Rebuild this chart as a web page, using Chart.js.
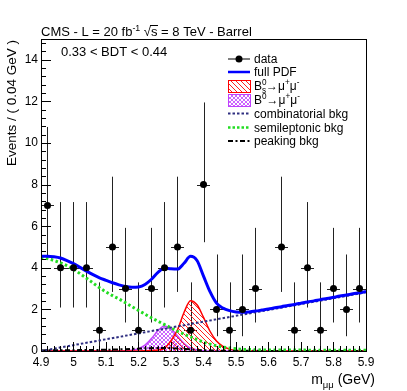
<!DOCTYPE html>
<html>
<head>
<meta charset="utf-8">
<script src="https://cdn.jsdelivr.net/npm/chart.js@4.4.1/dist/chart.umd.min.js"></script>
<style>
  html, body { margin: 0; padding: 0; background: #fff; }
  #grafico { display: block; }
</style>
</head>
<body>
<canvas id="grafico" width="407" height="391"></canvas>
<script>
/* mass fit, barrel, 0.33 < BDT < 0.44 */

// dados
var binCenters = [4.92, 4.96, 5.00, 5.04, 5.08, 5.12, 5.16, 5.20, 5.24, 5.28, 5.32, 5.36, 5.40,
                  5.44, 5.48, 5.52, 5.56, 5.60, 5.64, 5.68, 5.72, 5.76, 5.80, 5.84, 5.88];
var events = [7, 4, 4, 4, 1, 5, 3, 1, 3, 4, 5, 1, 8, 2, 1, 2, 3, 0, 5, 1, 4, 1, 3, 2, 3];
var errDown = [2.58, 1.91, 1.91, 1.91, 0.83, 2.16, 1.63, 0.83, 1.63, 1.91, 2.16, 0.83, 2.77,
               1.29, 0.83, 1.29, 1.63, 0, 2.16, 0.83, 1.91, 0.83, 1.63, 1.29, 1.63];
var errUp = [3.77, 3.16, 3.16, 3.16, 2.30, 3.38, 2.92, 2.30, 2.92, 3.16, 3.38, 2.30, 3.95,
             2.64, 2.30, 2.64, 2.92, 0, 3.38, 2.30, 3.16, 2.30, 2.92, 2.64, 2.92];

var massGrid = [4.90, 4.92, 4.94, 4.96, 4.98, 5.00, 5.02, 5.04, 5.06, 5.08, 5.10, 5.12, 5.14,
                5.16, 5.18, 5.20, 5.22, 5.24, 5.26, 5.28, 5.30, 5.32, 5.34, 5.36, 5.38, 5.40,
                5.42, 5.44, 5.46, 5.48, 5.50, 5.52, 5.54, 5.56, 5.58, 5.60, 5.62, 5.64, 5.66,
                5.68, 5.70, 5.72, 5.74, 5.76, 5.78, 5.80, 5.82, 5.84, 5.86, 5.88, 5.90];
var fullPdf = [4.55, 4.56, 4.53, 4.47, 4.35, 4.20, 4.02, 3.84, 3.67, 3.52, 3.40, 3.28, 3.18,
               3.10, 3.06, 3.08, 3.20, 3.45, 3.78, 3.98, 3.95, 3.94, 4.22, 4.55, 4.35, 3.60,
               2.85, 2.30, 2.06, 1.94, 1.88, 1.86, 1.88, 1.92, 1.97, 2.02, 2.08, 2.13, 2.19,
               2.24, 2.30, 2.36, 2.41, 2.47, 2.52, 2.58, 2.64, 2.69, 2.75, 2.80, 2.86];
var semileptonic = [4.50, 4.44, 4.35, 4.24, 4.10, 3.93, 3.72, 3.50, 3.27, 3.04, 2.84, 2.66, 2.50,
                    2.32, 2.13, 1.95, 1.77, 1.59, 1.43, 1.27, 1.11, 0.95, 0.81, 0.68, 0.55, 0.43,
                    0.33, 0.25, 0.19, 0.14, 0.11, 0.08, 0.07, 0.06, 0.05, 0.05, 0.05, 0.05, 0.05,
                    0.05, 0.05, 0.04, 0.04, 0.04, 0.04, 0.04, 0.04, 0.04, 0.04, 0.04, 0.04];

var combMass = [4.90, 5.90];
var combinatorial = [0.0, 2.82];

var bsMass = [4.90, 5.20, 5.24, 5.26, 5.28, 5.30, 5.32, 5.34, 5.36, 5.38, 5.40, 5.42, 5.44,
              5.46, 5.48, 5.50, 5.52, 5.54, 5.90];
var bsSignal = [0, 0, 0.02, 0.05, 0.13, 0.50, 1.02, 1.85, 2.42, 2.22, 1.62, 0.95, 0.48,
                0.22, 0.09, 0.03, 0.01, 0, 0];

var bdMass = [4.90, 5.14, 5.16, 5.18, 5.20, 5.22, 5.24, 5.26, 5.28, 5.30, 5.32, 5.34, 5.36,
              5.38, 5.40, 5.42, 5.90];
var bdSignal = [0, 0, 0.01, 0.04, 0.11, 0.28, 0.60, 0.98, 1.20, 1.06, 0.72, 0.36, 0.14,
                0.05, 0.01, 0, 0];

var peakMass = [4.90, 5.00, 5.10, 5.16, 5.22, 5.26, 5.30, 5.34, 5.38, 5.44, 5.50, 5.90];
var peaking = [0.03, 0.04, 0.06, 0.09, 0.13, 0.15, 0.14, 0.10, 0.05, 0.02, 0.01, 0.0];

var xTicks = [4.9, 5.0, 5.1, 5.2, 5.3, 5.4, 5.5, 5.6, 5.7, 5.8, 5.9];
var yTicks = [0, 2, 4, 6, 8, 10, 12, 14];

var FONTE = '"Liberation Sans", Arial, Helvetica, sans-serif';

function pares(xs, ys) {
    return xs.map(function (x, i) { return { x: x, y: ys[i] }; });
}

function hachura(cor, cruzada, passo) {
    var c = document.createElement('canvas');
    c.width = passo; c.height = passo;
    var g = c.getContext('2d');
    g.strokeStyle = cor;
    g.lineWidth = 1;
    g.beginPath();
    g.moveTo(-1, -1); g.lineTo(passo + 1, passo + 1);
    g.moveTo(-1, passo - 1); g.lineTo(1, passo + 1);
    g.moveTo(passo - 1, -1); g.lineTo(passo + 1, 1);
    if (cruzada) {
        g.moveTo(-1, passo + 1); g.lineTo(passo + 1, -1);
        g.moveTo(-1, 1); g.lineTo(1, -1);
        g.moveTo(passo - 1, passo + 1); g.lineTo(passo + 1, passo - 1);
    }
    g.stroke();
    return g.createPattern(c, 'repeat');
}

var hachuraBs = hachura('#ff2020', false, 5);
var hachuraBd = hachura('#cc66ff', true, 4);

// texto com sub/sobrescritos: [texto, 'sup'|'sub', naoAvanca]
function texto(c, x, y, partes, tam) {
    partes.forEach(function (p) {
        var t = p[0], tipo = p[1] || '';
        if (!tipo) {
            c.font = tam + 'px ' + FONTE;
            c.fillText(t, x, y);
            x += c.measureText(t).width;
        } else {
            c.font = (tam * 0.68) + 'px ' + FONTE;
            var dy = tipo === 'sup' ? -tam * 0.42 : tam * 0.28;
            c.fillText(t, x, y + dy);
            if (!p[2]) x += c.measureText(t).width;
        }
    });
    return x;
}

var estiloRoot = {
    id: 'estiloRoot',
    beforeDatasetsDraw: function (chart) {
        var c = chart.ctx, sx = chart.scales.x, sy = chart.scales.y;
        c.save();
        c.strokeStyle = '#222';
        c.lineWidth = 1;
        binCenters.forEach(function (m, i) {
            if (!events[i]) return;
            var px = Math.round(sx.getPixelForValue(m)) + 0.5;
            var py = Math.round(sy.getPixelForValue(events[i])) + 0.5;
            c.beginPath();
            c.moveTo(px, sy.getPixelForValue(events[i] + errUp[i]));
            c.lineTo(px, sy.getPixelForValue(events[i] - errDown[i]));
            c.moveTo(sx.getPixelForValue(m - 0.02), py);
            c.lineTo(sx.getPixelForValue(m + 0.02), py);
            c.stroke();
        });
        c.restore();
    },
    afterDraw: function (chart) {
        var c = chart.ctx, a = chart.chartArea, sx = chart.scales.x, sy = chart.scales.y;
        c.save();
        // moldura
        c.strokeStyle = '#000';
        c.lineWidth = 1;
        c.strokeRect(Math.round(a.left) + 0.5, Math.round(a.top) + 0.5,
                     Math.round(a.right - a.left), Math.round(a.bottom - a.top));
        // marcas para dentro, estilo ROOT
        c.beginPath();
        for (var i = 0; i < xTicks.length; i++) {
            var px = Math.round(sx.getPixelForValue(xTicks[i])) + 0.5;
            c.moveTo(px, a.bottom); c.lineTo(px, a.bottom - 9);
            if (i < xTicks.length - 1) {
                for (var k = 1; k < 5; k++) {
                    var pm = Math.round(sx.getPixelForValue(xTicks[i] + (xTicks[i + 1] - xTicks[i]) * k / 5)) + 0.5;
                    c.moveTo(pm, a.bottom); c.lineTo(pm, a.bottom - 5);
                }
            }
        }
        for (var j = 0; j < yTicks.length; j++) {
            var py = Math.round(sy.getPixelForValue(yTicks[j])) + 0.5;
            c.moveTo(a.left, py); c.lineTo(a.left + 10, py);
            for (var q = 1; q < 5; q++) {
                var v = yTicks[j] + 2 * q / 5;
                if (v > sy.max) break;
                var pq = Math.round(sy.getPixelForValue(v)) + 0.5;
                c.moveTo(a.left, pq); c.lineTo(a.left + 5, pq);
            }
        }
        c.stroke();

        // textos
        c.fillStyle = '#000';
        c.textBaseline = 'alphabetic';
        c.textAlign = 'left';
        var x = texto(c, 41, 36, [['CMS - L = 20 fb'], ['-1', 'sup'], [' ']], 13);
        x = texto(c, x, 36, [['\u221a']], 13);
        var xs = x;
        x = texto(c, x, 36, [['s']], 13);
        c.beginPath();
        c.moveTo(xs - 1, 25.5); c.lineTo(x + 0.5, 25.5);
        c.stroke();
        texto(c, x, 36, [[' = 8 TeV - Barrel']], 13);

        texto(c, 61, 56, [['0.33 < BDT < 0.44']], 13);

        // titulo do eixo x, alinhado a direita
        var tt = 14;
        c.font = tt + 'px ' + FONTE;
        var w = c.measureText('m').width + c.measureText(' (GeV)').width;
        c.font = (tt * 0.68) + 'px ' + FONTE;
        w += c.measureText('\u03bc\u03bc').width;
        texto(c, 375 - w, 384, [['m'], ['\u03bc\u03bc', 'sub'], [' (GeV)']], tt);

        // titulo do eixo y
        c.save();
        c.translate(16, 40);
        c.rotate(-Math.PI / 2);
        c.font = '13.5px ' + FONTE;
        c.textAlign = 'right';
        c.fillText('Events / ( 0.04 GeV )', 0, 0);
        c.restore();

        // legenda
        var lx0 = 228, lx1 = 250, tx = 254;
        var linhas = [58.5, 72, 86, 100, 113.5, 127.5, 141];
        c.lineWidth = 1;
        c.strokeStyle = '#000';
        c.beginPath(); c.moveTo(lx0, linhas[0] + 0.5); c.lineTo(lx1, linhas[0] + 0.5); c.stroke();
        c.beginPath(); c.arc(239, linhas[0] + 0.5, 3.5, 0, Math.PI * 2); c.fill();

        c.strokeStyle = '#0000ff'; c.lineWidth = 2.5;
        c.beginPath(); c.moveTo(lx0, linhas[1]); c.lineTo(lx1, linhas[1]); c.stroke();

        c.lineWidth = 1;
        c.fillStyle = hachuraBs;
        c.fillRect(lx0, linhas[2] - 6, lx1 - lx0, 12);
        c.strokeStyle = '#ff0000';
        c.strokeRect(lx0 + 0.5, linhas[2] - 5.5, lx1 - lx0, 12);
        c.fillStyle = hachuraBd;
        c.fillRect(lx0, linhas[3] - 6, lx1 - lx0, 12);
        c.strokeStyle = '#c040ff';
        c.strokeRect(lx0 + 0.5, linhas[3] - 5.5, lx1 - lx0, 12);

        c.strokeStyle = '#2e2e80'; c.lineWidth = 2; c.setLineDash([2.5, 2]);
        c.beginPath(); c.moveTo(lx0, linhas[4]); c.lineTo(lx1, linhas[4]); c.stroke();
        c.strokeStyle = '#22dd22'; c.lineWidth = 2.5; c.setLineDash([2.5, 2]);
        c.beginPath(); c.moveTo(lx0, linhas[5]); c.lineTo(lx1, linhas[5]); c.stroke();
        c.strokeStyle = '#000'; c.lineWidth = 2; c.setLineDash([5, 2.5, 2, 2.5]);
        c.beginPath(); c.moveTo(lx0, linhas[6]); c.lineTo(lx1, linhas[6]); c.stroke();
        c.setLineDash([]);

        c.fillStyle = '#000';
        var tam = 12;
        texto(c, tx, linhas[0] + 4, [['data']], tam);
        texto(c, tx, linhas[1] + 4, [['full PDF']], tam);
        texto(c, tx, linhas[2] + 4, [['B'], ['0', 'sup', true], ['s', 'sub'], ['\u2192\u03bc'], ['+', 'sup'], ['\u03bc'], ['-', 'sup']], tam);
        texto(c, tx, linhas[3] + 4, [['B'], ['0', 'sup'], ['\u2192\u03bc'], ['+', 'sup'], ['\u03bc'], ['-', 'sup']], tam);
        texto(c, tx, linhas[4] + 4, [['combinatorial bkg']], tam);
        texto(c, tx, linhas[5] + 4, [['semileptonic bkg']], tam);
        texto(c, tx, linhas[6] + 4, [['peaking bkg']], tam);
        c.restore();
    }
};

var ctx = grafico.getContext('2d');

new Chart(ctx, {
    type: 'scatter',
    data: {
        datasets: [
            {
                label: 'data',
                data: binCenters.map(function (m, i) { return { x: m, y: events[i] ? events[i] : null }; }),
                pointRadius: 3.5,
                pointBackgroundColor: '#000',
                pointBorderWidth: 0,
                showLine: false
            },
            {
                label: 'full PDF',
                data: pares(massGrid, fullPdf),
                showLine: true, fill: false,
                borderColor: '#0000ff', borderWidth: 3,
                pointRadius: 0, cubicInterpolationMode: 'monotone'
            },
            {
                label: 'combinatorial bkg',
                data: pares(combMass, combinatorial),
                showLine: true, fill: false,
                borderColor: '#2e2e80', borderWidth: 2, borderDash: [2.5, 2],
                pointRadius: 0
            },
            {
                label: 'semileptonic bkg',
                data: pares(massGrid, semileptonic),
                showLine: true, fill: false,
                borderColor: '#22dd22', borderWidth: 3, borderDash: [2.5, 2.5],
                pointRadius: 0, cubicInterpolationMode: 'monotone'
            },
            {
                label: 'peaking bkg',
                data: pares(peakMass, peaking),
                showLine: true, fill: false,
                borderColor: '#000', borderWidth: 2, borderDash: [5, 2.5, 2, 2.5],
                pointRadius: 0, cubicInterpolationMode: 'monotone'
            },
            {
                label: 'Bs',
                data: pares(bsMass, bsSignal),
                showLine: true, fill: 'origin',
                backgroundColor: hachuraBs,
                borderColor: '#ff0000', borderWidth: 1.5,
                pointRadius: 0, cubicInterpolationMode: 'monotone'
            },
            {
                label: 'B0',
                data: pares(bdMass, bdSignal),
                showLine: true, fill: 'origin',
                backgroundColor: hachuraBd,
                borderColor: '#c040ff', borderWidth: 1.5,
                pointRadius: 0, cubicInterpolationMode: 'monotone'
            }
        ]
    },
    options: {
        responsive: false,
        animation: false,
        events: [],
        layout: { padding: { top: 39, right: 41, left: 0, bottom: 0 } },
        plugins: {
            legend: { display: false },
            tooltip: { enabled: false }
        },
        scales: {
            x: {
                type: 'linear', min: 4.9, max: 5.9,
                grid: { display: false, drawTicks: false },
                border: { display: false },
                afterBuildTicks: function (s) { s.ticks = xTicks.map(function (v) { return { value: v }; }); },
                afterFit: function (s) { s.height = 40; },
                ticks: {
                    color: '#000', padding: 4, maxRotation: 0, autoSkip: false,
                    font: { family: FONTE, size: 12 },
                    callback: function (v) { return String(Number(v.toFixed(1))); }
                }
            },
            y: {
                min: 0, max: 15,
                grid: { display: false, drawTicks: false },
                border: { display: false },
                afterBuildTicks: function (s) { s.ticks = yTicks.map(function (v) { return { value: v }; }); },
                afterFit: function (s) { s.width = 41; },
                ticks: {
                    color: '#000', padding: 3,
                    font: { family: FONTE, size: 12 }
                }
            }
        }
    },
    plugins: [estiloRoot]
});
</script>
</body>
</html>
